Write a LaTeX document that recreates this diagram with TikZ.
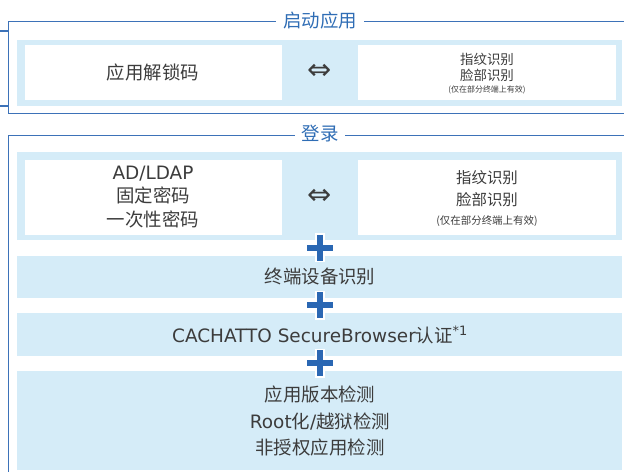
\documentclass[tikz,border=0pt]{standalone}
\usepackage{fontspec}
\setmainfont{Noto Sans CJK SC}
\newfontfamily\symfont{DejaVu Sans}
\newfontfamily\lat{DejaVu Sans}
\definecolor{frameblue}{HTML}{3D72B8}
\definecolor{titleblue}{HTML}{2F6DB5}
\definecolor{paleblue}{HTML}{D5ECF8}
\definecolor{plusblue}{HTML}{2A67B3}
\definecolor{textgray}{HTML}{3C3C3C}
\tikzset{
  frameline/.style={draw=frameblue, line width=1.5bp},
  panel/.style={fill=paleblue, draw=none, inner sep=0pt, anchor=north west},
  whitebox/.style={fill=white, draw=none, inner sep=0pt, anchor=north west},
  frametitle/.style={fill=white, text=titleblue, inner xsep=7bp, inner ysep=1bp, font=\fontsize{18.5}{21}\selectfont},
  bigtxt/.style={text=textgray, align=center, inner sep=0pt, font=\fontsize{18.5}{23.5}\selectfont},
  midtxt/.style={text=textgray, align=center, inner sep=0pt, font=\fontsize{15.5}{22}\selectfont},
  smalltxt/.style={text=textgray, align=center, inner sep=0pt, font=\fontsize{13.5}{16.5}\selectfont},
  notetxt/.style={text=textgray, inner sep=0pt},
  equiv/.style={text=textgray, inner sep=0pt, font=\symfont\fontsize{29}{29}\selectfont},
  plussign/.pic={
    \draw[white, line width=10bp] (-14.5,0) -- (14.5,0) (0,-14.5) -- (0,14.5);
    \draw[plusblue, line width=6.5bp] (-13,0) -- (13,0) (0,-13) -- (0,13);
  }
}
\begin{document}
\begin{tikzpicture}[x=1bp,y=-1bp]
\clip (0,0) rectangle (624,472);
\fill[white] (0,0) rectangle (624,472);

% ---------- frame 1 : 启动应用 ----------
\coordinate (f1tr) at (640,21.5);
\coordinate (f1br) at (640,113.5);
\coordinate (f1tl) at (8.5,21.5);
\coordinate (f1bl) at (8.5,113.5);
\coordinate (s1a) at (0,31);
\coordinate (s1b) at (8.5,31);
\coordinate (s2a) at (0,106);
\coordinate (s2b) at (8.5,106);
\draw[frameline] (f1tr) -- (f1tl) -- (f1bl) -- (f1br);
\draw[frameline] (s1a) -- (s1b);
\draw[frameline] (s2a) -- (s2b);
\node[frametitle] (t1) at (320,20.5) {启动应用};

\node[panel, minimum width=605bp, minimum height=66bp] (pa) at (17,40) {};
\node[whitebox, minimum width=257bp, minimum height=55bp] (wa1) at (25,45) {};
\node[whitebox, minimum width=258bp, minimum height=55bp] (wa2) at (358,45) {};
\node[bigtxt] (ta1) at (153,72) {应用解锁码};
\node[equiv] (ea) at (320,72) {⇔};
\node[smalltxt] (ta2) at (487,67.5) {指纹识别\\脸部识别};
\node[notetxt, font=\fontsize{8}{9}\selectfont] (na2) at (487,90) {(仅在部分终端上有效)};

% ---------- frame 2 : 登录 ----------
\coordinate (f2tr) at (640,135.5);
\coordinate (f2tl) at (8.5,135.5);
\coordinate (f2bl) at (8.5,480);
\draw[frameline] (f2tr) -- (f2tl) -- (f2bl);
\node[frametitle] (t2) at (320,134) {登录};

\node[panel, minimum width=605bp, minimum height=88bp] (pb) at (17,152) {};
\node[whitebox, minimum width=257bp, minimum height=75bp] (wb1) at (25,160) {};
\node[whitebox, minimum width=258bp, minimum height=75bp] (wb2) at (358,160) {};
\node[bigtxt] (tb1) at (153,197) {{\lat AD/LDAP}\\固定密码\\一次性密码};
\node[equiv] (eb) at (320,197) {⇔};
\node[midtxt] (tb2) at (487,189) {指纹识别\\脸部识别};
\node[notetxt, font=\fontsize{10.5}{12}\selectfont] (nb2) at (487,221) {(仅在部分终端上有效)};

\node[panel, minimum width=605bp, minimum height=41.5bp] (pc) at (17,256) {};
\node[bigtxt] (tc) at (320,277) {终端设备识别};

\node[panel, minimum width=605bp, minimum height=43bp] (pd) at (17,313) {};
\node[bigtxt] (td) at (320,335) {{\lat CACHATTO SecureBrowser}认证\textsuperscript{\lat *1}};

\node[panel, minimum width=605bp, minimum height=99bp] (pe) at (17,371) {};
\node[bigtxt, font=\fontsize{18.5}{27}\selectfont] (te) at (320,421) {应用版本检测\\{\lat Root}化{\lat /}越狱检测\\非授权应用检测};

% plus signs
\pic (plus1) at (320,248) {plussign};
\pic (plus2) at (320,305) {plussign};
\pic (plus3) at (320,363) {plussign};
\end{tikzpicture}
\end{document}
